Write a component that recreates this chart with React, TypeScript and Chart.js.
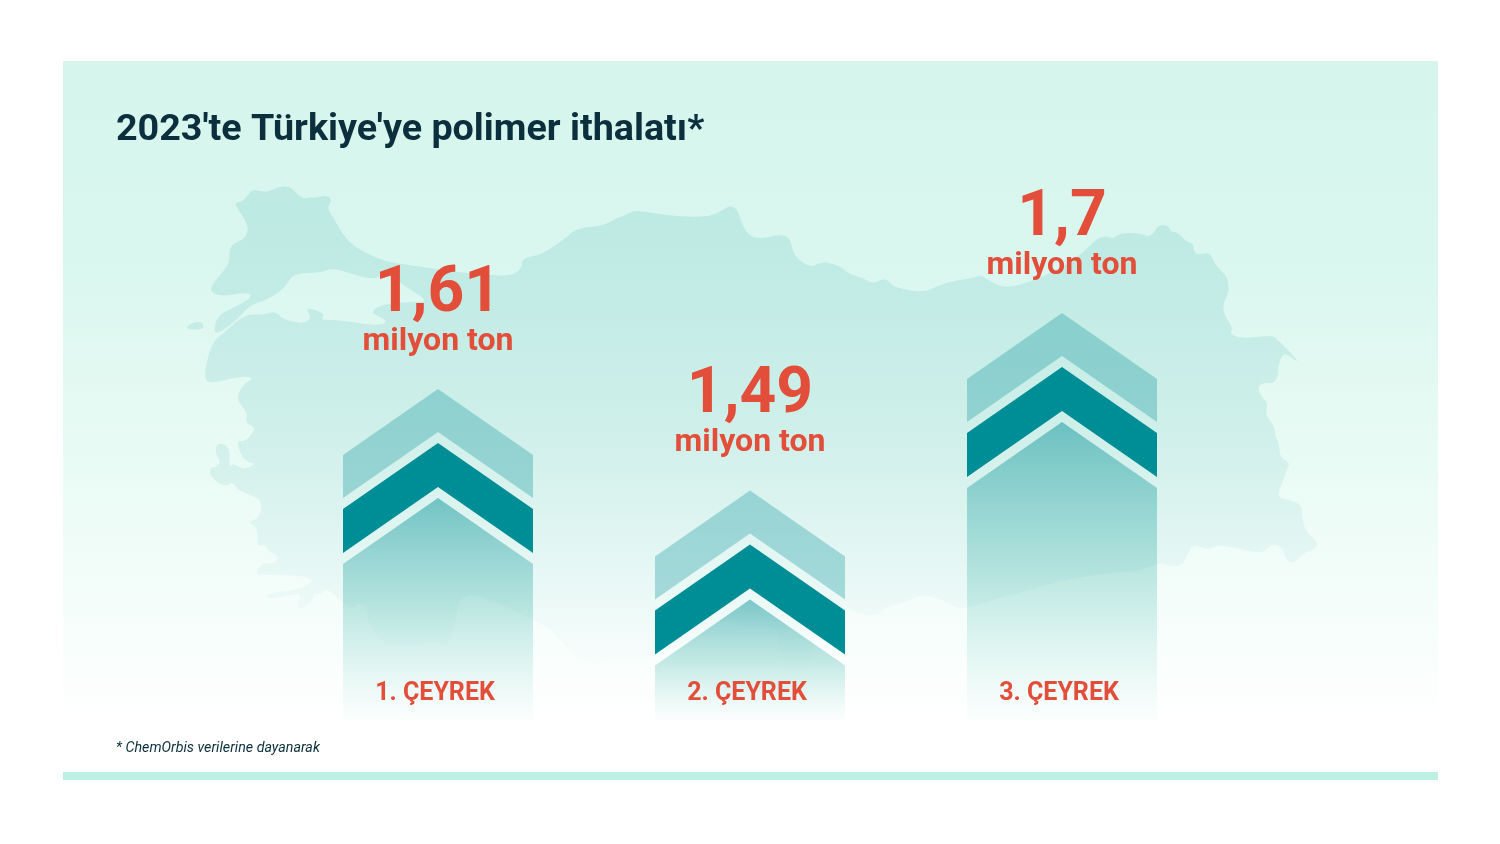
import React, { useEffect, useRef } from "react";
import { Chart, registerables } from "chart.js";

Chart.register(...registerables);

const quarters = ["1. ÇEYREK", "2. ÇEYREK", "3. ÇEYREK"];
const imports = [1.61, 1.49, 1.7];
const valueLabels = ["1,61", "1,49", "1,7"];
const unitLabel = "milyon ton";
const titleText = "2023'te Türkiye'ye polimer ithalatı*";
const noteText = "* ChemOrbis verilerine dayanarak";

const TEAL = "0,142,150";
const RED = "#e24e39";
const NAVY = "#0b2f3c";

// silhouette used as a background decoration
const mapOutline: number[][] = [
  [233,203],[242,202],[248,195],[253,189],[267,193],[277,187],[290,186],[298,195],[305,199],[310,197],[314,198],[327,195],[332,200],[327,208],[333,217],[342,233],[352,245],[370,255],[387,262],[423,267],[457,272],[490,275],[512,276],[522,268],[522,258],[540,255],[553,247],[567,237],[577,228],[603,226],[617,218],[623,216],[635,210],[653,213],[673,216],[703,217],[717,214],[730,205],[738,210],[741,222],[748,235],[760,239],[783,234],[791,240],[793,255],[810,268],[823,261],[842,267],[850,275],[862,277],[872,284],[882,279],[888,280],[893,287],[923,293],[940,285],[953,281],[973,278],[982,275],[992,283],[1007,288],[1030,282],[1063,267],[1083,253],[1097,238],[1107,236],[1113,239],[1120,233],[1140,233],[1148,237],[1154,233],[1158,225],[1168,225],[1171,232],[1177,232],[1187,242],[1193,243],[1194,252],[1198,255],[1210,252],[1215,265],[1228,277],[1229,293],[1223,303],[1224,315],[1233,328],[1230,333],[1237,337],[1250,338],[1272,335],[1278,340],[1293,355],[1299,363],[1288,355],[1283,354],[1278,365],[1278,378],[1272,384],[1267,382],[1257,386],[1262,398],[1268,403],[1265,415],[1275,427],[1275,437],[1279,442],[1280,458],[1290,462],[1287,470],[1278,493],[1280,498],[1290,500],[1302,505],[1302,520],[1307,533],[1318,542],[1315,550],[1303,553],[1293,565],[1285,558],[1283,548],[1272,543],[1265,552],[1252,552],[1233,547],[1217,545],[1207,550],[1193,544],[1188,553],[1183,565],[1170,567],[1160,562],[1137,572],[1117,572],[1073,578],[1020,592],[967,608],[955,608],[947,602],[923,594],[903,603],[883,608],[877,617],[853,612],[845,605],[825,625],[813,640],[810,668],[790,672],[777,650],[780,633],[767,625],[745,630],[727,615],[700,635],[670,650],[647,660],[627,657],[590,667],[570,653],[553,630],[533,620],[517,612],[497,602],[470,593],[458,600],[455,627],[447,647],[437,640],[403,647],[380,642],[367,620],[367,607],[357,602],[352,610],[340,600],[327,588],[320,595],[313,593],[313,602],[298,611],[298,602],[302,592],[270,600],[265,593],[302,590],[317,577],[267,574],[257,575],[256,570],[265,562],[273,565],[280,556],[270,553],[265,544],[257,547],[258,528],[247,522],[260,518],[262,500],[250,495],[238,490],[233,482],[225,487],[210,477],[210,467],[215,468],[221,462],[215,453],[217,443],[227,445],[230,453],[229,468],[233,463],[244,470],[257,463],[245,462],[238,448],[238,440],[245,442],[257,428],[245,423],[248,413],[235,398],[245,383],[254,378],[242,376],[213,383],[203,380],[211,343],[225,332],[245,314],[263,315],[276,311],[282,319],[303,324],[312,318],[305,308],[317,310],[325,315],[320,320],[340,320],[377,326],[388,322],[380,317],[370,312],[383,304],[410,302],[430,302],[403,285],[387,273],[372,280],[350,273],[332,268],[320,273],[293,273],[285,288],[267,300],[250,305],[240,317],[220,333],[213,332],[218,315],[233,308],[253,297],[247,292],[220,297],[208,290],[220,275],[230,263],[229,245],[247,238],[248,223]
];
const mapIsland: number[][] = [[184,329],[193,322],[203,322],[204,330]];

function smoothPath(ctx: CanvasRenderingContext2D, pts: number[][]) {
  const n = pts.length;
  ctx.moveTo((pts[n - 1][0] + pts[0][0]) / 2, (pts[n - 1][1] + pts[0][1]) / 2);
  for (let i = 0; i < n; i++) {
    const [x, y] = pts[i];
    const [nx, ny] = pts[(i + 1) % n];
    ctx.quadraticCurveTo(x, y, (x + nx) / 2, (y + ny) / 2);
  }
  ctx.closePath();
}

const CHEVRON = { shoulder: 66, lightInner: 43, darkTop: 54, darkInner: 98, base: 109 };

function chevron(ctx: CanvasRenderingContext2D, cx: number, half: number, top: number, inner: number) {
  const s = CHEVRON.shoulder;
  ctx.beginPath();
  ctx.moveTo(cx - half, top + s);
  ctx.lineTo(cx, top);
  ctx.lineTo(cx + half, top + s);
  ctx.lineTo(cx + half, inner + s);
  ctx.lineTo(cx, inner);
  ctx.lineTo(cx - half, inner + s);
  ctx.closePath();
}

const backdrop = {
  id: "backdrop",
  beforeDraw(chart: any) {
    const { ctx, width } = chart;
    ctx.save();
    ctx.fillStyle = "#ffffff";
    ctx.fillRect(0, 0, width, chart.height);
    const g = ctx.createLinearGradient(0, 61, 0, 722);
    g.addColorStop(0, "#d6f5ed");
    g.addColorStop(0.3, "#d9f7ef");
    g.addColorStop(0.55, "#e6faf3");
    g.addColorStop(0.8, "#f3fdfa");
    g.addColorStop(1, "#ffffff");
    ctx.fillStyle = g;
    ctx.fillRect(63, 61, 1375, 661);
    ctx.fillStyle = "#bcf0e0";
    ctx.fillRect(63, 772, 1375, 8);
    const m = ctx.createLinearGradient(0, 185, 0, 680);
    m.addColorStop(0, `rgba(${TEAL},0.12)`);
    m.addColorStop(0.27, `rgba(${TEAL},0.115)`);
    m.addColorStop(0.475, `rgba(${TEAL},0.1)`);
    m.addColorStop(0.64, `rgba(${TEAL},0.075)`);
    m.addColorStop(0.84, `rgba(${TEAL},0.035)`);
    m.addColorStop(1, `rgba(${TEAL},0)`);
    ctx.fillStyle = m;
    ctx.beginPath();
    smoothPath(ctx, mapOutline);
    smoothPath(ctx, mapIsland);
    ctx.fill();
    ctx.restore();
  },
};

const chevrons = {
  id: "chevrons",
  beforeDatasetDraw(chart: any) {
    const { ctx } = chart;
    const bars = chart.getDatasetMeta(0).data;
    ctx.save();
    const region = new Path2D();
    bars.forEach((b: any) => {
      const half = b.width / 2;
      const a = b.y + CHEVRON.base;
      region.moveTo(b.x - half, b.base);
      region.lineTo(b.x - half, a + CHEVRON.shoulder);
      region.lineTo(b.x, a);
      region.lineTo(b.x + half, a + CHEVRON.shoulder);
      region.lineTo(b.x + half, b.base);
      region.closePath();
    });
    ctx.clip(region);
  },
  afterDatasetDraw(chart: any) {
    const { ctx } = chart;
    ctx.restore();
    const bars = chart.getDatasetMeta(0).data;
    ctx.save();
    bars.forEach((b: any, i: number) => {
      const half = b.width / 2;
      ctx.fillStyle = `rgba(${TEAL},0.3)`;
      chevron(ctx, b.x, half, b.y, b.y + CHEVRON.lightInner);
      ctx.fill();
      ctx.fillStyle = `rgb(${TEAL})`;
      chevron(ctx, b.x, half, b.y + CHEVRON.darkTop, b.y + CHEVRON.darkInner);
      ctx.fill();
      ctx.textAlign = "center";
      ctx.textBaseline = "alphabetic";
      ctx.fillStyle = RED;
      ctx.font = "700 64.2px Roboto";
      ctx.fillText(valueLabels[i], b.x, b.y - 78);
      ctx.font = "700 32px Roboto";
      ctx.fillText(unitLabel, b.x, b.y - 39);
    });
    ctx.restore();
  },
};

export default function App() {
  const ref = useRef<HTMLCanvasElement>(null);
  useEffect(() => {
    const chart = new Chart(ref.current!, {
      type: "bar",
      data: {
        labels: quarters,
        datasets: [
          {
            data: imports,
            barThickness: 190,
            borderWidth: 0,
            backgroundColor: (c: any) => {
              const ch = c.chart;
              if (!ch.chartArea || c.dataIndex === undefined) return `rgba(${TEAL},0.4)`;
              const top = ch.scales.y.getPixelForValue(imports[c.dataIndex]) + CHEVRON.base;
              const g = ch.ctx.createLinearGradient(0, top, 0, ch.chartArea.bottom);
              g.addColorStop(0, `rgba(${TEAL},0.48)`);
              g.addColorStop(0.5, "rgba(40,170,160,0.27)");
              g.addColorStop(1, "rgba(100,210,190,0.02)");
              return g;
            },
          },
        ],
      },
      plugins: [backdrop, chevrons],
      options: {
        animation: false,
        responsive: false,
        layout: { padding: { left: 116, right: 282, top: 108, bottom: 87.5 } },
        plugins: {
          legend: { display: false },
          tooltip: { enabled: false },
          title: {
            display: true,
            text: titleText,
            align: "start",
            color: NAVY,
            font: { family: "Roboto", size: 37.7, weight: 700, lineHeight: 1.2 },
            padding: { top: 0, bottom: 0 },
          },
          subtitle: {
            display: true,
            position: "bottom",
            text: noteText,
            align: "start",
            color: NAVY,
            font: { family: "Roboto", size: 14.25, style: "italic", weight: 400, lineHeight: 1.2 },
            padding: { top: 19.5, bottom: 0 },
          },
        },
        scales: {
          x: {
            grid: { display: false },
            border: { display: false },
            afterFit: (s: any) => { s.height = 0; },
            ticks: {
              color: RED,
              font: { family: "Roboto", size: 25, weight: 700, lineHeight: 1.2 },
              mirror: true,
              padding: 11,
              labelOffset: -3,
              maxRotation: 0,
              autoSkip: false,
              z: 1,
            },
          },
          y: {
            min: 1.2184,
            max: 1.889,
            grid: { display: false },
            border: { display: false },
            ticks: { display: false },
            afterFit: (s: any) => { s.width = 166; },
          },
        },
      },
    } as any);
    return () => chart.destroy();
  }, []);
  return (
    <div style={{ position: "absolute", left: 0, top: 0, width: 1500, height: 844, background: "#fff" }}>
      <canvas ref={ref} width={1500} height={844} style={{ display: "block" }} />
    </div>
  );
}
